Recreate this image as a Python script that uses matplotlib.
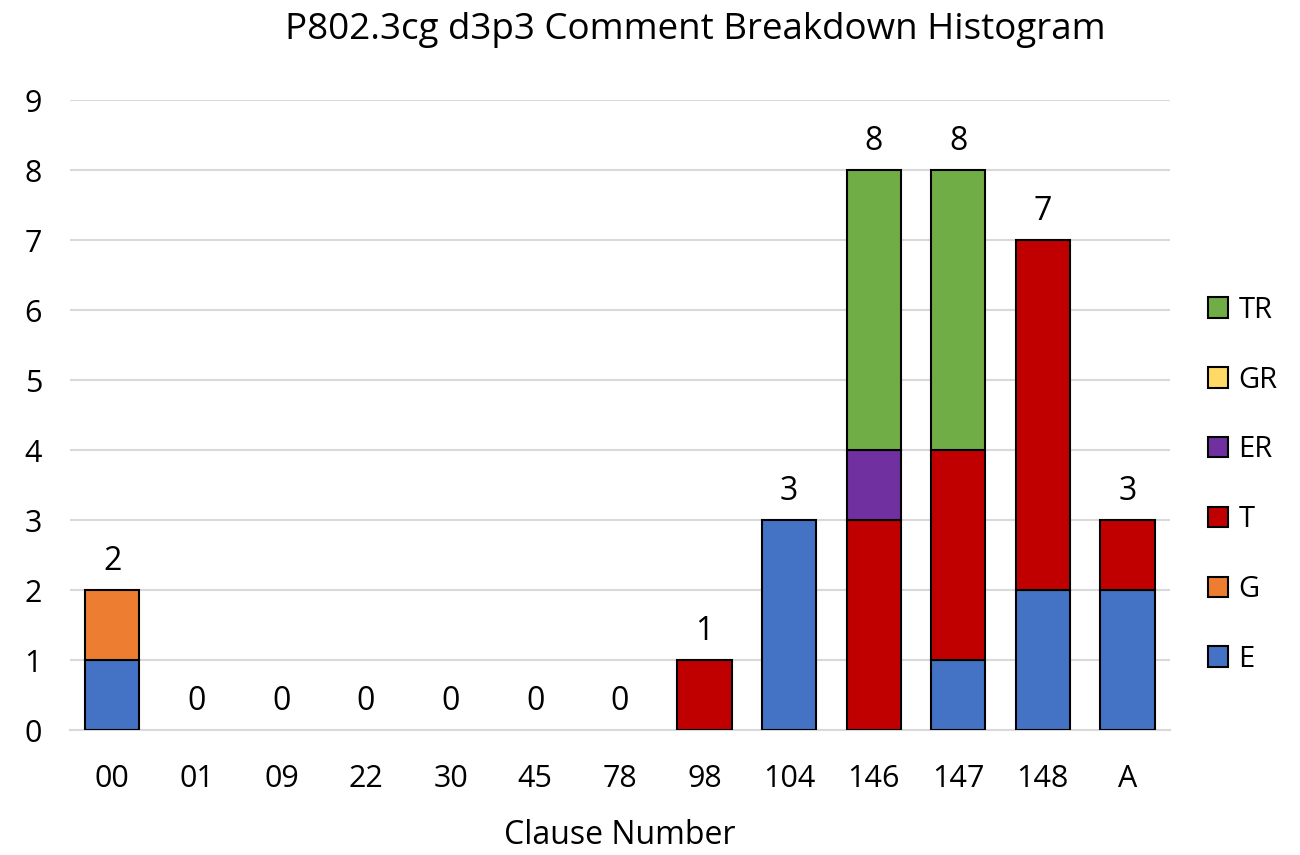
import matplotlib
matplotlib.use("Agg")
import matplotlib.pyplot as plt
from matplotlib.patches import Patch
import numpy as np

plt.rcParams['font.family'] = ['Open Sans', 'DejaVu Sans']

categories = ["00", "01", "09", "22", "30", "45", "78", "98", "104", "146", "147", "148", "A"]
E  = [1, 0, 0, 0, 0, 0, 0, 0, 3, 0, 1, 2, 2]
G  = [1, 0, 0, 0, 0, 0, 0, 0, 0, 0, 0, 0, 0]
T  = [0, 0, 0, 0, 0, 0, 0, 1, 0, 3, 3, 5, 1]
ER = [0, 0, 0, 0, 0, 0, 0, 0, 0, 1, 0, 0, 0]
GR = [0, 0, 0, 0, 0, 0, 0, 0, 0, 0, 0, 0, 0]
TR = [0, 0, 0, 0, 0, 0, 0, 0, 0, 4, 4, 0, 0]

series = [("E", E, "#4472C4"), ("G", G, "#ED7D31"), ("T", T, "#C00000"),
          ("ER", ER, "#7030A0"), ("GR", GR, "#FFD966"), ("TR", TR, "#70AD47")]

fig = plt.figure(figsize=(13, 8.55), dpi=100)
ax = fig.add_axes([0.0538, 0.146, 0.846, 0.737])

x = np.arange(len(categories))
bottom = np.zeros(len(categories))
for name, vals, col in series:
    v = np.array(vals, dtype=float)
    lw = [1.5 if h > 0 else 0 for h in v]
    ax.bar(x, v, width=0.64, bottom=bottom, color=col, edgecolor="black",
           linewidth=lw, zorder=3)
    bottom += v

for xi, tot in zip(x, bottom):
    ax.text(xi, tot + 0.17, f"{int(tot)}", ha="center", va="bottom",
            fontsize=23, color="#000000")

ax.set_xlim(-0.5, len(categories) - 0.5)
ax.set_ylim(0, 9)
ax.set_yticks(range(0, 10))
ax.set_xticks(x)
ax.set_xticklabels(categories)
ax.tick_params(axis="both", length=0, labelsize=22, colors="#000000")
ax.tick_params(axis="x", pad=24)
ax.tick_params(axis="y", pad=20)
ax.grid(axis="y", color="#D9D9D9", linewidth=1.5, zorder=0)
for s in ["top", "right", "left"]:
    ax.spines[s].set_visible(False)
ax.spines["bottom"].set_color("#D9D9D9")
ax.spines["bottom"].set_linewidth(1.5)
ax.set_axisbelow(True)

ax.set_xlabel("Clause Number", fontsize=23, labelpad=18)

fig.text(0.535, 0.965, "P802.3cg d3p3 Comment Breakdown Histogram",
         ha="center", va="center", fontsize=26.5)

handles = [Patch(facecolor=col, edgecolor="black", linewidth=1.5, label=name)
           for name, vals, col in reversed(series)]
fig.legend(handles=handles, loc="center left", bbox_to_anchor=(0.92, 0.433),
           frameon=False, fontsize=21, handlelength=0.7, handleheight=0.7,
           handletextpad=0.35, labelspacing=1.4, borderaxespad=0)

fig.savefig("out.png", dpi=100)
